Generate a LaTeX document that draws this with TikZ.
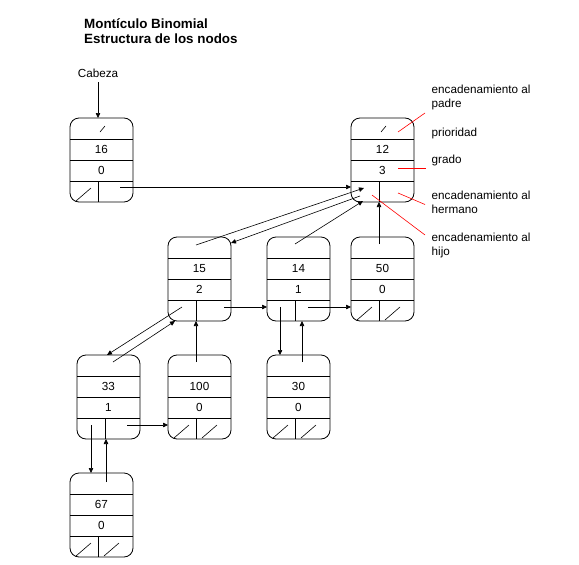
\documentclass[tikz,border=0pt]{standalone}
\usepackage{fontspec}
\setmainfont{Liberation Sans}
\usetikzlibrary{arrows.meta,calc}
\newcommand\tslash{\draw[nul] (30,14)--(35,8);}
\newcommand\lslash{\draw[nul] (6,83)--(21,70);}
\newcommand\rslash{\draw[nul] (34,83)--(49,70);}
\newcommand\bnode[6]{%
  \begin{scope}[shift={(#2,#3)}]
    \draw[box] (0,0) rectangle (63,84);
    \node[inner sep=0pt,minimum width=63pt,minimum height=84pt,anchor=north west] (#1) at (0,0) {};
    \draw[rowline] (0,21)--(63,21) (0,42)--(63,42) (0,63)--(63,63) (28,63)--(28,84);
    \node[txt] (#1-p) at (31.5,31.5) {#4};
    \node[txt] (#1-g) at (31.5,52.5) {#5};
    #6
  \end{scope}}
\begin{document}
\begin{tikzpicture}[x=1pt,y=-1pt,
  box/.style={draw=black,line width=0.8pt,rounded corners=9pt},
  rowline/.style={draw=black,line width=0.8pt},
  conn/.style={draw=black,line width=0.6pt,-{Triangle[length=5pt,width=4.5pt]}},
  nul/.style={draw=black,line width=0.6pt},
  redl/.style={draw=red,line width=0.6pt},
  txt/.style={inner sep=0pt,font=\fontsize{11.7}{14}\selectfont},
  ttl/.style={inner sep=0pt,font=\fontsize{13.4}{15.5}\selectfont\bfseries,anchor=base west}]
\useasboundingbox (0,0) rectangle (579,565);

% title
\node[ttl] (t1) at (84,28) {Montículo Binomial};
\node[ttl] (t2) at (84,43.5) {Estructura de los nodos};

% nodes
\bnode{n16}{70}{118}{16}{0}{\tslash\lslash}
\bnode{n12}{351}{118}{12}{3}{\tslash}
\bnode{n15}{168}{237}{15}{2}{}
\bnode{n14}{267}{237}{14}{1}{}
\bnode{n50}{351}{237}{50}{0}{\lslash\rslash}
\bnode{n33}{77}{355}{33}{1}{}
\bnode{n100}{168}{355}{100}{0}{\lslash\rslash}
\bnode{n30}{267}{355}{30}{0}{\lslash\rslash}
\bnode{n67}{70}{473}{67}{0}{\lslash\rslash}

% head
\node[txt] (cab) at (98,73) {Cabeza};
\draw[conn] ([yshift=-5pt]cab.south) -- ($(n16.north west)+(28,0)$);

% connectors
\draw[conn] ($(n16.north west)+(50,69)$) -- ($(n12.north west)+(0,69)$);
\draw[conn] ($(n15.north west)+(28,8)$) -- ($(n12.north west)+(13,70)$);
\draw[conn] ($(n12.north west)+(9,78)$) -- ($(n15.north west)+(63,6)$);
\draw[conn] ($(n14.north west)+(28,7)$) -- ($(n12.north west)+(12,83)$);
\draw[conn] ($(n50.north west)+(28,7)$) -- ($(n12.north west)+(28,84)$);
\draw[conn] ($(n15.north west)+(56,70)$) -- ($(n14.north west)+(0,70)$);
\draw[conn] ($(n14.north west)+(41,70)$) -- ($(n50.north west)+(0,70)$);
\draw[conn] ($(n15.north west)+(14,70)$) -- ($(n33.north west)+(30,0)$);
\draw[conn] ($(n33.north west)+(36,7)$) -- ($(n15.north west)+(7,84)$);
\draw[conn] ($(n100.north west)+(28,7)$) -- ($(n15.north west)+(28,84)$);
\draw[conn] ($(n14.north west)+(13,70)$) -- ($(n30.north west)+(13,0)$);
\draw[conn] ($(n30.north west)+(35,7)$) -- ($(n14.north west)+(35,84)$);
\draw[conn] ($(n33.north west)+(50,70)$) -- ($(n100.north west)+(0,70)$);
\draw[conn] ($(n33.north west)+(14,70)$) -- ($(n67.north west)+(21,0)$);
\draw[conn] ($(n67.north west)+(36,9)$) -- ($(n33.north west)+(29,84)$);

% labels
\node[txt,anchor=west,align=left] (lpadre) at (431.5,97) {encadenamiento al\\padre};
\node[txt,anchor=west] (lprio) at (431.5,133) {prioridad};
\node[txt,anchor=west] (lgrado) at (431.5,160) {grado};
\node[txt,anchor=west,align=left] (lherm) at (431.5,202.5) {encadenamiento al\\hermano};
\node[txt,anchor=west,align=left] (lhijo) at (431.5,245.5) {encadenamiento al\\hijo};

\coordinate (epadre) at (425,113);
\coordinate (egrado) at (426,168);
\coordinate (eherm) at (425,204.5);
\coordinate (ehijo) at (425,235);
\draw[redl] ($(n12.north west)+(47,14)$) -- (epadre);
\draw[redl] ($(n12.north west)+(47,50)$) -- (egrado);
\draw[redl] ($(n12.north west)+(47,75)$) -- (eherm);
\draw[redl] ($(n12.north west)+(21,77)$) -- (ehijo);
\end{tikzpicture}
\end{document}
